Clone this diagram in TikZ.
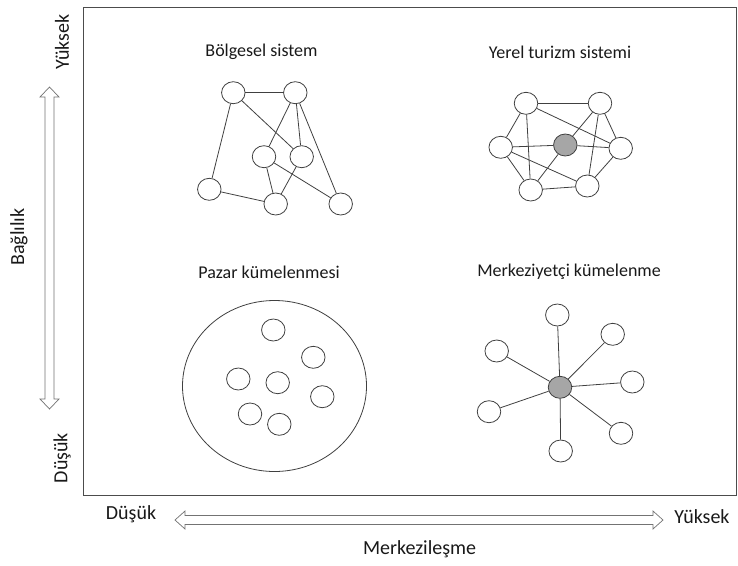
\documentclass[tikz,border=0pt]{standalone}
\usepackage{fontspec}
\setmainfont{Carlito}
\usetikzlibrary{shapes.geometric}
\begin{document}
\begin{tikzpicture}[x=1pt,y=-1pt,
  nd/.style={draw=black!75, line width=0.8pt, ellipse, minimum width=23.5pt, minimum height=22pt, inner sep=0pt, fill=white},
  hub/.style={nd, fill=black!35},
  ln/.style={draw=black!75, line width=0.8pt},
  ttl/.style={font=\fontsize{18}{20}\selectfont, text=black!90, inner sep=0pt},
  axl/.style={font=\fontsize{20}{22}\selectfont, text=black!90, inner sep=0pt},
  axarrow/.style={draw=black!55, line width=0.7pt, fill=white, line join=miter}]
\useasboundingbox (0,0) rectangle (738,565);
% frame
\draw[draw=black!70, line width=0.9pt] (83,7) rectangle (736,495);

% titles
\node[ttl] (t1) at (261.5,52) {Bölgesel sistem};
\node[ttl] (t2) at (560,52) {Yerel turizm sistemi};
\node[ttl] (t3) at (269,272) {Pazar kümelenmesi};
\node[ttl] (t4) at (569,272) {Merkeziyetçi kümelenme};

% Bolgesel sistem
\node[nd] (a) at (233.3,92.7) {};
\node[nd] (b) at (295.3,92.7) {};
\node[nd] (c) at (264,156.7) {};
\node[nd] (d) at (301.7,156.7) {};
\node[nd] (e) at (209.3,189.3) {};
\node[nd] (f) at (275.7,204) {};
\node[nd] (g) at (340.7,204) {};
\draw[ln] (a) -- (b);
\draw[ln] (a) -- (e);
\draw[ln] (a) -- (d);
\draw[ln] (b) -- (c);
\draw[ln] (b) -- (d);
\draw[ln] (b) -- (g);
\draw[ln] (c) -- (f);
\draw[ln] (d) -- (f);
\draw[ln] (c) -- (g);
\draw[ln] (e) -- (f);

% Yerel turizm sistemi
\node[nd] (h1) at (526,103.3) {};
\node[nd] (h2) at (600,103.3) {};
\node[nd] (l) at (500.7,147.3) {};
\node[nd] (r) at (620.7,148.3) {};
\node[hub] (x) at (565.3,145) {};
\node[nd] (bl) at (530.7,190) {};
\node[nd] (br) at (587.3,186) {};
\draw[ln] (h1) -- (h2);
\draw[ln] (h1) -- (l);
\draw[ln] (h1) -- (r);
\draw[ln] (h1) -- (bl);
\draw[ln] (h2) -- (x);
\draw[ln] (h2) -- (br);
\draw[ln] (h2) -- (r);
\draw[ln] (l) -- (x);
\draw[ln] (x) -- (r);
\draw[ln] (l) -- (br);
\draw[ln] (l) -- (bl);
\draw[ln] (x) -- (bl);
\draw[ln] (bl) -- (br);
\draw[ln] (br) -- (r);

% Pazar kumelenmesi
\node[draw=black!75, line width=0.8pt, ellipse, minimum width=184pt, minimum height=171pt, inner sep=0pt] (big) at (274.5,386) {};
\node[nd] (p1) at (273.3,330) {};
\node[nd] (p2) at (313.3,357.3) {};
\node[nd] (p3) at (238.3,379) {};
\node[nd] (p4) at (277.7,382.7) {};
\node[nd] (p5) at (322.3,396.7) {};
\node[nd] (p6) at (250,414) {};
\node[nd] (p7) at (279.3,424.3) {};

% Merkeziyetci kumelenme
\node[hub] (m) at (560,387.3) {};
\node[nd] (s1) at (557.3,315) {};
\node[nd] (s2) at (612.7,334.3) {};
\node[nd] (s3) at (496.7,351) {};
\node[nd] (s4) at (632.3,382) {};
\node[nd] (s5) at (489,411.7) {};
\node[nd] (s6) at (621,433.3) {};
\node[nd] (s7) at (560.7,451) {};
\foreach \s in {s1,s2,s3,s4,s5,s6,s7} \draw[ln] (m) -- (\s);

% vertical axis
\draw[axarrow] (49.5,87) -- (59,97) -- (54,97) -- (54,399) -- (59,399) -- (49.5,409)
  -- (40,399) -- (45,399) -- (45,97) -- (40,97) -- cycle;
\node[axl, rotate=90] (vy) at (62,42) {Yüksek};
\node[axl, rotate=90] (vb) at (19,237) {Bağlılık};
\node[axl, rotate=90] (vd) at (62,458) {Düşük};

% horizontal axis
\draw[axarrow] (175,520) -- (185,511) -- (185,515.5) -- (653,515.5) -- (653,511) -- (663,520)
  -- (653,529) -- (653,524.5) -- (185,524.5) -- (185,529) -- cycle;
\node[axl] (hd) at (131,514) {Düşük};
\node[axl] (hy) at (702,517) {Yüksek};
\node[axl] (hm) at (419.5,549) {Merkezileşme};
\end{tikzpicture}
\end{document}
